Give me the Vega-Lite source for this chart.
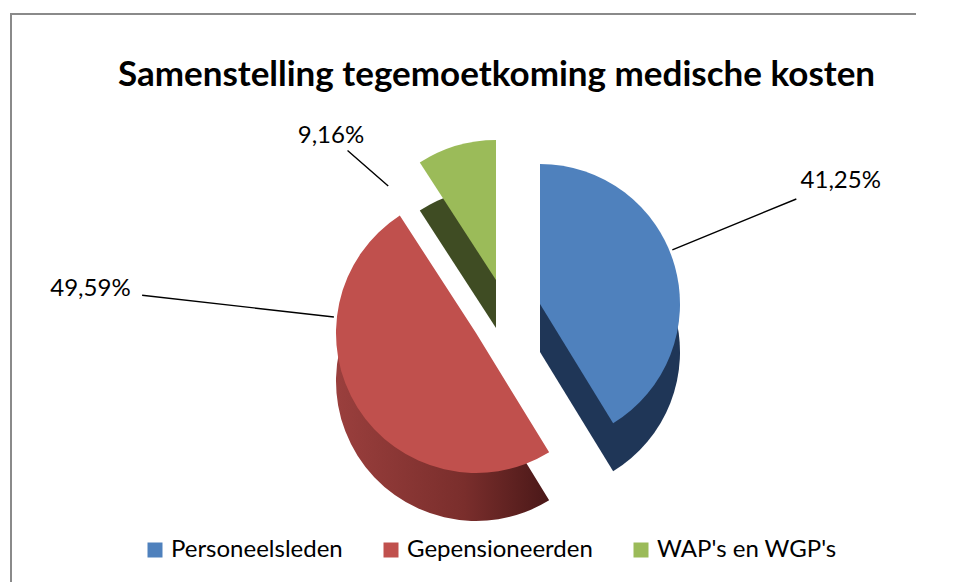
{
  "$schema": "https://vega.github.io/schema/vega-lite/v6.json",
  "width": 905,
  "height": 568,
  "padding": {"left": 10, "top": 13, "right": 0, "bottom": 0},
  "background": "white",
  "config": {"view": {"stroke": null}, "font": "Lato"},
  "title": {
    "text": "Samenstelling tegemoetkoming medische kosten",
    "font": "Lato", "fontSize": 35, "fontWeight": "bold", "color": "#000000",
    "anchor": "middle", "baseline": "alphabetic", "offset": -108, "dx": 33
  },
  "data": {"values": [
    {"groep": "Personeelsleden", "aandeel": 41.25, "label": "41,25%"},
    {"groep": "Gepensioneerden", "aandeel": 49.59, "label": "49,59%"},
    {"groep": "WAP's en WGP's", "aandeel": 9.16, "label": "9,16%"}
  ]},
  "transform": [{"stack": "aandeel", "groupby": [], "as": ["v0", "v1"]}],
  "layer": [
    {
      "data": {"values": [{"kader": "rand"}]},
      "mark": {"type": "rect", "filled": false, "stroke": "#8a8a8a", "strokeWidth": 2, "strokeDash": [905, 1473, 580, 0]},
      "encoding": {}
    },
    {
      "transform": [{"filter": {"field": "groep", "equal": "Personeelsleden"}}],
      "mark": {"type": "arc", "radius": 140, "xOffset": 76.5, "yOffset": 54, "fill": "#1F3657"},
      "encoding": {"theta": {"field": "v0", "type": "quantitative", "scale": {"domain": [0, 100]}}, "theta2": {"field": "v1"}}
    },
    {
      "transform": [{"filter": {"field": "groep", "equal": "Gepensioneerden"}}],
      "mark": {"type": "arc", "radius": 140, "xOffset": 12.5, "yOffset": 83,
        "fill": {"gradient": "linear", "x1": 0, "y1": 0, "x2": 1, "y2": 0,
          "stops": [{"offset": 0, "color": "#9A3F3D"}, {"offset": 0.6, "color": "#7A2E2C"}, {"offset": 1, "color": "#4A1818"}]}},
      "encoding": {"theta": {"field": "v0", "type": "quantitative", "scale": {"domain": [0, 100]}}, "theta2": {"field": "v1"}}
    },
    {
      "transform": [{"filter": {"field": "groep", "equal": "WAP's en WGP's"}}],
      "mark": {"type": "arc", "radius": 140, "xOffset": 32.5, "yOffset": 30, "fill": "#3F4C23"},
      "encoding": {"theta": {"field": "v0", "type": "quantitative", "scale": {"domain": [0, 100]}}, "theta2": {"field": "v1"}}
    },
    {
      "transform": [{"filter": {"field": "groep", "equal": "Personeelsleden"}}],
      "mark": {"type": "arc", "radius": 140, "xOffset": 76.5, "yOffset": 6},
      "encoding": {
        "theta": {"field": "v0", "type": "quantitative", "scale": {"domain": [0, 100]}},
        "theta2": {"field": "v1"},
        "color": {"field": "groep", "type": "nominal",
          "scale": {"domain": ["Personeelsleden", "Gepensioneerden", "WAP's en WGP's"], "range": ["#4F81BD", "#C0504D", "#9BBB59"]},
          "legend": {"title": null, "orient": "none", "direction": "horizontal", "legendX": 132, "legendY": 524,
            "symbolType": "square", "symbolSize": 225, "symbolStrokeWidth": 0,
            "labelFont": "Lato", "labelFontSize": 24, "labelColor": "#000000", "labelOffset": 4, "labelLimit": 400,
            "columnPadding": 36}}
      }
    },
    {
      "transform": [{"filter": {"field": "groep", "equal": "Gepensioneerden"}}],
      "mark": {"type": "arc", "radius": 140, "xOffset": 12.5, "yOffset": 35},
      "encoding": {
        "theta": {"field": "v0", "type": "quantitative", "scale": {"domain": [0, 100]}},
        "theta2": {"field": "v1"},
        "color": {"field": "groep", "type": "nominal"}
      }
    },
    {
      "transform": [{"filter": {"field": "groep", "equal": "WAP's en WGP's"}}],
      "mark": {"type": "arc", "radius": 140, "xOffset": 32.5, "yOffset": -18},
      "encoding": {
        "theta": {"field": "v0", "type": "quantitative", "scale": {"domain": [0, 100]}},
        "theta2": {"field": "v1"},
        "color": {"field": "groep", "type": "nominal"}
      }
    },
    {
      "transform": [{"filter": {"field": "groep", "equal": "Personeelsleden"}}],
      "mark": {"type": "arc", "radius": 277, "radius2": 143, "thetaOffset": 1.182, "theta2Offset": 1.182, "xOffset": 76.5, "yOffset": 6, "filled": false, "stroke": "#000000", "strokeWidth": 1.4},
      "encoding": {"theta": {"field": "v0", "type": "quantitative", "scale": {"domain": [0, 100]}}, "theta2": {"field": "v0"}}
    },
    {
      "transform": [{"filter": {"field": "groep", "equal": "Gepensioneerden"}}],
      "mark": {"type": "arc", "radius": 336, "radius2": 143, "thetaOffset": 2.233, "theta2Offset": 2.233, "xOffset": 12.5, "yOffset": 35, "filled": false, "stroke": "#000000", "strokeWidth": 1.4},
      "encoding": {"theta": {"field": "v0", "type": "quantitative", "scale": {"domain": [0, 100]}}, "theta2": {"field": "v0"}}
    },
    {
      "transform": [{"filter": {"field": "groep", "equal": "WAP's en WGP's"}}],
      "mark": {"type": "arc", "radius": 197, "radius2": 143, "thetaOffset": -0.278, "theta2Offset": -0.278, "xOffset": 32.5, "yOffset": -18, "filled": false, "stroke": "#000000", "strokeWidth": 1.4},
      "encoding": {"theta": {"field": "v0", "type": "quantitative", "scale": {"domain": [0, 100]}}, "theta2": {"field": "v0"}}
    },
    {
      "transform": [{"filter": {"field": "groep", "equal": "Personeelsleden"}}],
      "mark": {"type": "text", "radius": 325, "thetaOffset": 1.182, "xOffset": 76.5, "yOffset": 6, "font": "Lato", "fontSize": 24, "color": "#000000", "align": "center", "baseline": "middle"},
      "encoding": {"theta": {"field": "v0", "type": "quantitative", "scale": {"domain": [0, 100]}}, "text": {"field": "label"}}
    },
    {
      "transform": [{"filter": {"field": "groep", "equal": "Gepensioneerden"}}],
      "mark": {"type": "text", "radius": 388, "thetaOffset": 2.233, "xOffset": 12.5, "yOffset": 35, "font": "Lato", "fontSize": 24, "color": "#000000", "align": "center", "baseline": "middle"},
      "encoding": {"theta": {"field": "v0", "type": "quantitative", "scale": {"domain": [0, 100]}}, "text": {"field": "label"}}
    },
    {
      "transform": [{"filter": {"field": "groep", "equal": "WAP's en WGP's"}}],
      "mark": {"type": "text", "radius": 219, "thetaOffset": -0.278, "xOffset": 32.5, "yOffset": -18, "font": "Lato", "fontSize": 24, "color": "#000000", "align": "center", "baseline": "middle"},
      "encoding": {"theta": {"field": "v0", "type": "quantitative", "scale": {"domain": [0, 100]}}, "text": {"field": "label"}}
    }
  ]
}
